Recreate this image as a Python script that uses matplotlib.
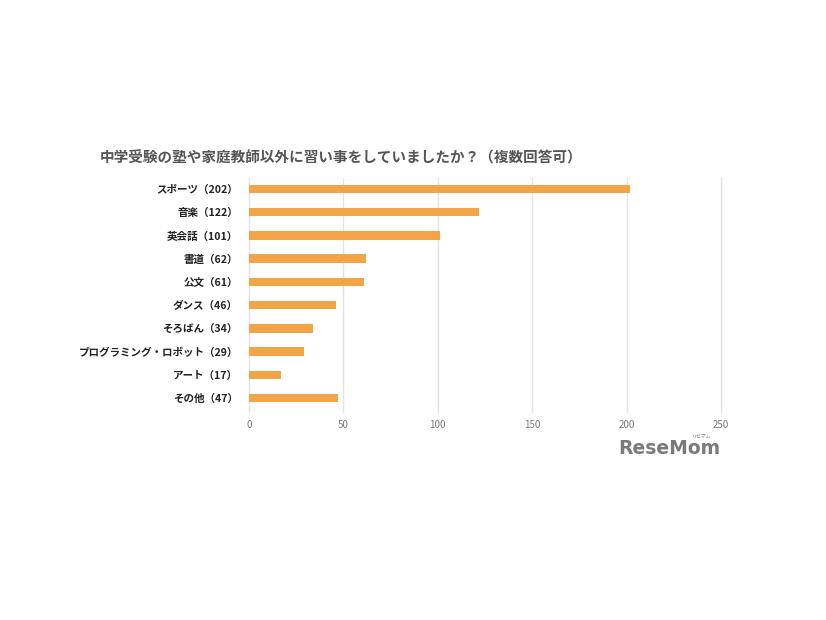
import matplotlib
matplotlib.use("Agg")
import matplotlib.pyplot as plt

plt.rcParams['font.family'] = ['Noto Sans CJK JP', 'DejaVu Sans']

categories = ["スポーツ（202）", "音楽（122）", "英会話（101）", "書道（62）", "公文（61）",
              "ダンス（46）", "そろばん（34）", "プログラミング・ロボット（29）", "アート（17）", "その他（47）"]
values = [202, 122, 101, 62, 61, 46, 34, 29, 17, 47]
xticks = [0, 50, 100, 150, 200, 250]
title = "中学受験の塾や家庭教師以外に習い事をしていましたか？（複数回答可）"

fig = plt.figure(figsize=(8.26, 6.2), dpi=100)
ax = fig.add_axes([249/826, 1-412/620, (721-249)/826, (412-178)/620])

ypos = list(range(len(categories)))
ax.barh(ypos, values, height=0.36, color="#F2A446", zorder=3)
ax.set_xlim(0, 250)
ax.set_ylim(9.6, -0.47)
ax.set_yticks(ypos)
ax.set_yticklabels(categories, fontsize=7.6, fontweight='bold', color='#222222')
ax.set_xticks(xticks)
ax.set_xticklabels([str(t) for t in xticks], fontsize=7, color='#777777')
ax.tick_params(axis='both', length=0)
ax.tick_params(axis='y', pad=8)
ax.tick_params(axis='x', pad=6)
ax.grid(axis='x', color='#e3e3e3', linewidth=1, zorder=0)
for gl in ax.get_xgridlines():
    gl.set_clip_on(False)
for s in ax.spines.values():
    s.set_visible(False)

fig.text(100/826, 1-158/620, title, fontsize=10.5, fontweight='bold', color='#555555', va='center', ha='left')

fig.text(720/826, 1-449/620, "ReseMom", fontsize=13.5, fontweight='bold', color='#7a7a7a',
         ha='right', va='center', family=['DejaVu Sans'])
fig.text(702/826, 1-436/620, "リセマム", fontsize=3.5, color='#7a7a7a', ha='center', va='center')

fig.savefig("out.png", dpi=100)
